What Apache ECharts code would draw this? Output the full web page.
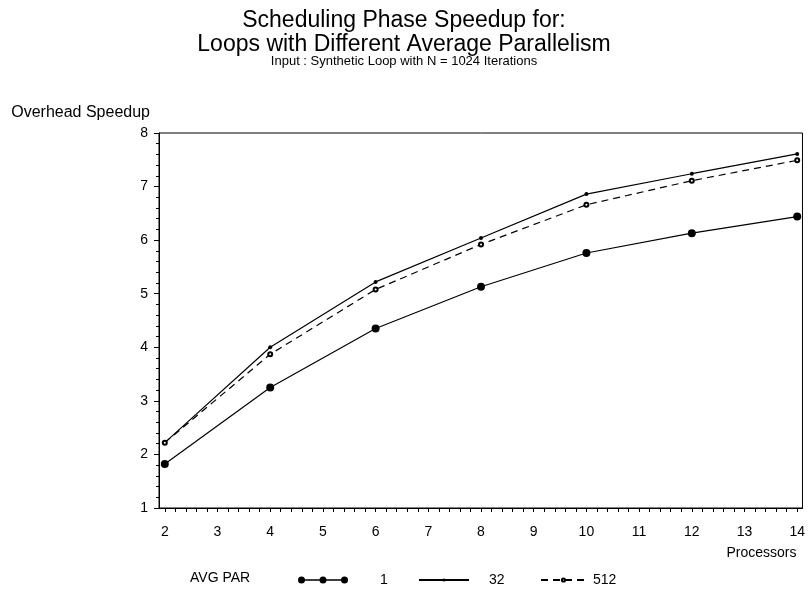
<!DOCTYPE html>
<html>
<head>
<meta charset="utf-8">
<script src="https://cdn.jsdelivr.net/npm/echarts@6/dist/echarts.min.js"></script>
<style>html,body{margin:0;padding:0;background:#fff}#c{width:808px;height:599px}</style>
</head>
<body>
<div id="c"></div>
<script>
// Data
var processors = [2, 4, 6, 8, 10, 12, 14];
var par1   = [1.82, 3.25, 4.35, 5.13, 5.76, 6.13, 6.44];
var par32  = [2.22, 4.00, 5.22, 6.04, 6.86, 7.24, 7.61];
var par512 = [2.22, 3.87, 5.08, 5.92, 6.66, 7.11, 7.49];
var xTickLabels = [2, 3, 4, 5, 6, 7, 8, 9, 10, 11, 12, 13, 14];
var seriesNames = ['1', '32', '512'];

function pairs(ys) { return processors.map(function (x, i) { return [x, ys[i]]; }); }
var xTicks = [];
for (var i = 0; i < 12; i++) {
  for (var k = 0; k < 5; k++) xTicks.push(Math.round((2 + i + k * 0.2) * 10) / 10);
}
xTicks.push(14);

var FONT = 'Liberation Sans, Arial, sans-serif';
var dotLineIcon = 'path://M0,4 a3.5,3.5 0 1,1 7,0 a3.5,3.5 0 1,1 -7,0 Z ' +
  'M6,3.2 L22.5,3.2 L22.5,4.8 L6,4.8 Z ' +
  'M21.5,4 a3.5,3.5 0 1,1 7,0 a3.5,3.5 0 1,1 -7,0 Z ' +
  'M27.5,3.2 L44,3.2 L44,4.8 L27.5,4.8 Z ' +
  'M43,4 a3.5,3.5 0 1,1 7,0 a3.5,3.5 0 1,1 -7,0 Z';
var chart = echarts.init(document.getElementById('c'), null, {renderer: 'canvas'});
chart.setOption({
  animation: false,
  backgroundColor: '#fff',
  textStyle: {fontFamily: FONT, color: '#000'},
  title: [
    {
      text: 'Scheduling Phase Speedup for:\nLoops with Different Average Parallelism',
      left: 'center', top: 4,
      textStyle: {fontFamily: FONT, fontSize: 23, fontWeight: 'normal', color: '#000', lineHeight: 24, align: 'center'}
    },
    {
      text: 'Input : Synthetic Loop with N = 1024 Iterations',
      left: 'center', top: 50,
      textStyle: {fontFamily: FONT, fontSize: 13, fontWeight: 'normal', color: '#000'}
    }
  ],
  graphic: [{
    type: 'text', left: 190, top: 571,
    style: {text: 'AVG PAR', font: '14px ' + FONT, fill: '#000'}
  }],
  legend: [
    {data: [{name: '1', icon: dotLineIcon, itemStyle: {color: '#000', borderWidth: 0}}], left: 293, top: 568, itemWidth: 50, itemHeight: 8,
     textStyle: {fontFamily: FONT, fontSize: 14, color: '#000', padding: [0, 0, 0, 27]}},
    {data: ['32'], left: 413, top: 568, itemWidth: 50, itemHeight: 4,
     textStyle: {fontFamily: FONT, fontSize: 14, color: '#000', padding: [0, 0, 0, 15]}},
    {data: ['512'], left: 535, top: 568, itemWidth: 45, itemHeight: 4,
     textStyle: {fontFamily: FONT, fontSize: 14, color: '#000', padding: [0, 0, 0, 2]}}
  ],
  grid: {left: 159, right: 2, top: 133, bottom: 91, show: true, borderColor: '#000', borderWidth: 1, containLabel: false},
  xAxis: {
    type: 'value', min: 1.89, max: 14.1,
    name: 'Processors', nameLocation: 'end', nameGap: 0,
    nameTextStyle: {fontFamily: FONT, fontSize: 14, color: '#000', align: 'right', verticalAlign: 'top', padding: [38, 6, 0, 0]},
    axisLine: {show: true, lineStyle: {color: '#000', width: 1}},
    axisTick: {show: true, length: 4, inside: false, customValues: xTicks, lineStyle: {color: '#000'}},
    axisLabel: {customValues: xTickLabels, fontFamily: FONT, fontSize: 14, color: '#000', margin: 17},
    splitLine: {show: false}
  },
  yAxis: {
    type: 'value', min: 1, max: 8, interval: 1,
    name: 'Overhead Speedup', nameLocation: 'end', nameGap: 20,
    nameTextStyle: {fontFamily: FONT, fontSize: 16, color: '#000', align: 'right', verticalAlign: 'middle', padding: [0, 9, 0, 0]},
    axisLine: {show: true, lineStyle: {color: '#000', width: 1}},
    axisTick: {show: true, length: 5, lineStyle: {color: '#000'}},
    minorTick: {show: true, splitNumber: 5, length: 3, lineStyle: {color: '#000'}},
    axisLabel: {fontFamily: FONT, fontSize: 14, color: '#000', margin: 11},
    splitLine: {show: false}
  },
  series: [
    {
      name: seriesNames[0], type: 'line', data: pairs(par1),
      symbol: 'circle', symbolSize: 8,
      itemStyle: {color: '#000'}, lineStyle: {color: '#000', width: 1.2}
    },
    {
      name: seriesNames[1], type: 'line', data: pairs(par32),
      symbol: 'circle', symbolSize: 4,
      itemStyle: {color: '#000'}, lineStyle: {color: '#000', width: 1.2}
    },
    {
      name: seriesNames[2], type: 'line', data: pairs(par512),
      symbol: 'emptyCircle', symbolSize: 4,
      itemStyle: {color: '#000', borderColor: '#000', borderWidth: 1},
      lineStyle: {color: '#000', width: 1.2, type: [7, 5]}
    }
  ]
});
</script>
</body>
</html>
